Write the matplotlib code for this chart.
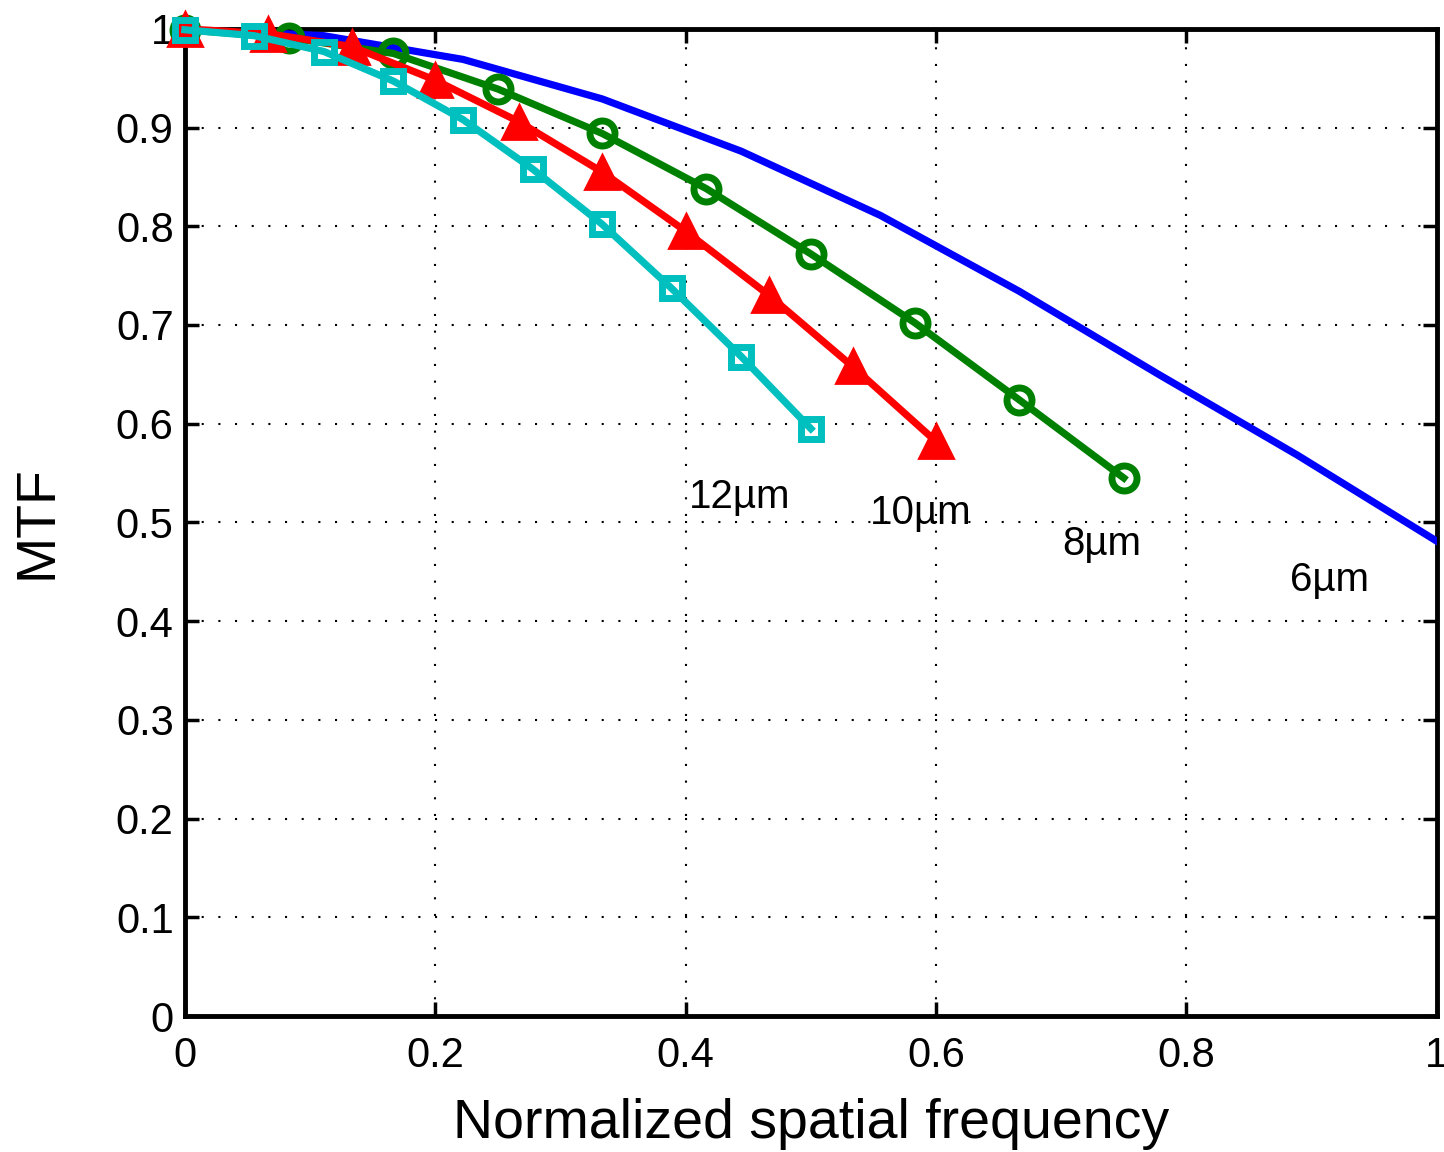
import numpy as np
import matplotlib.pyplot as plt

plt.rcParams['font.family'] = ['Liberation Sans', 'DejaVu Sans']

# 6 um pixel: line only
x6 = np.arange(10) / 9
mtf6 = [1.0, 0.993, 0.969, 0.929, 0.876, 0.811, 0.734, 0.650, 0.568, 0.481]

# 8 um pixel
x8 = np.arange(10) / 12
mtf8 = [0.999, 0.991, 0.975, 0.939, 0.894, 0.838, 0.772, 0.702, 0.624, 0.545]

# 10 um pixel
x10 = np.arange(10) / 15
mtf10 = [1.0, 0.995, 0.982, 0.948, 0.906, 0.855, 0.795, 0.730, 0.658, 0.582]

# 12 um pixel
x12 = np.arange(10) / 18
mtf12 = [0.999, 0.993, 0.977, 0.947, 0.908, 0.858, 0.802, 0.737, 0.668, 0.595]

labels = ['12µm', '10µm', '8µm', '6µm']
label_x = [0.403, 0.547, 0.701, 0.883]
label_y = [0.526, 0.510, 0.478, 0.442]

fig = plt.figure(figsize=(14.44, 11.52), dpi=100)
ax = fig.add_axes([0.128, 0.118, 0.867, 0.857])

ax.plot(x6, mtf6, '-', color='#0000ff', lw=5.2, zorder=3)
ax.plot(x8, mtf8, '-o', color='#008000', lw=5.2, ms=18, mew=5,
        mfc='none', zorder=4, clip_on=False)
ax.plot(x10, mtf10, '-^', color='#ff0000', lw=5.2, ms=24, mew=2,
        mfc='#ff0000', zorder=5, clip_on=False)
ax.plot(x12, mtf12, '-s', color='#00bfbf', lw=5.2, ms=14, mew=5,
        mfc='none', zorder=6, clip_on=False)

for lab, tx, ty in zip(labels, label_x, label_y):
    ax.text(tx, ty, lab, fontsize=29, ha='left', va='center')

ax.set_xlim(0, 1)
ax.set_ylim(0, 1)
ax.set_xticks(np.arange(0, 1.01, 0.2))
ax.set_xticklabels(['0', '0.2', '0.4', '0.6', '0.8', '1'])
ax.set_yticks(np.arange(0, 1.01, 0.1))
ax.set_yticklabels(['0', '0.1', '0.2', '0.3', '0.4', '0.5', '0.6', '0.7',
                    '0.8', '0.9', '1'])
ax.tick_params(direction='in', length=10, width=2.5, labelsize=30,
               top=True, right=True, pad=8)
ax.tick_params(axis='x', pad=14)
ax.grid(True, linestyle=(0, (1, 7)), color='black', lw=1.5)
for s in ax.spines.values():
    s.set_linewidth(3.5)

ax.set_xlabel('Normalized spatial frequency', fontsize=40, labelpad=16)
ax.set_ylabel('MTF', fontsize=40, labelpad=38)

fig.savefig('out.png', dpi=100)
